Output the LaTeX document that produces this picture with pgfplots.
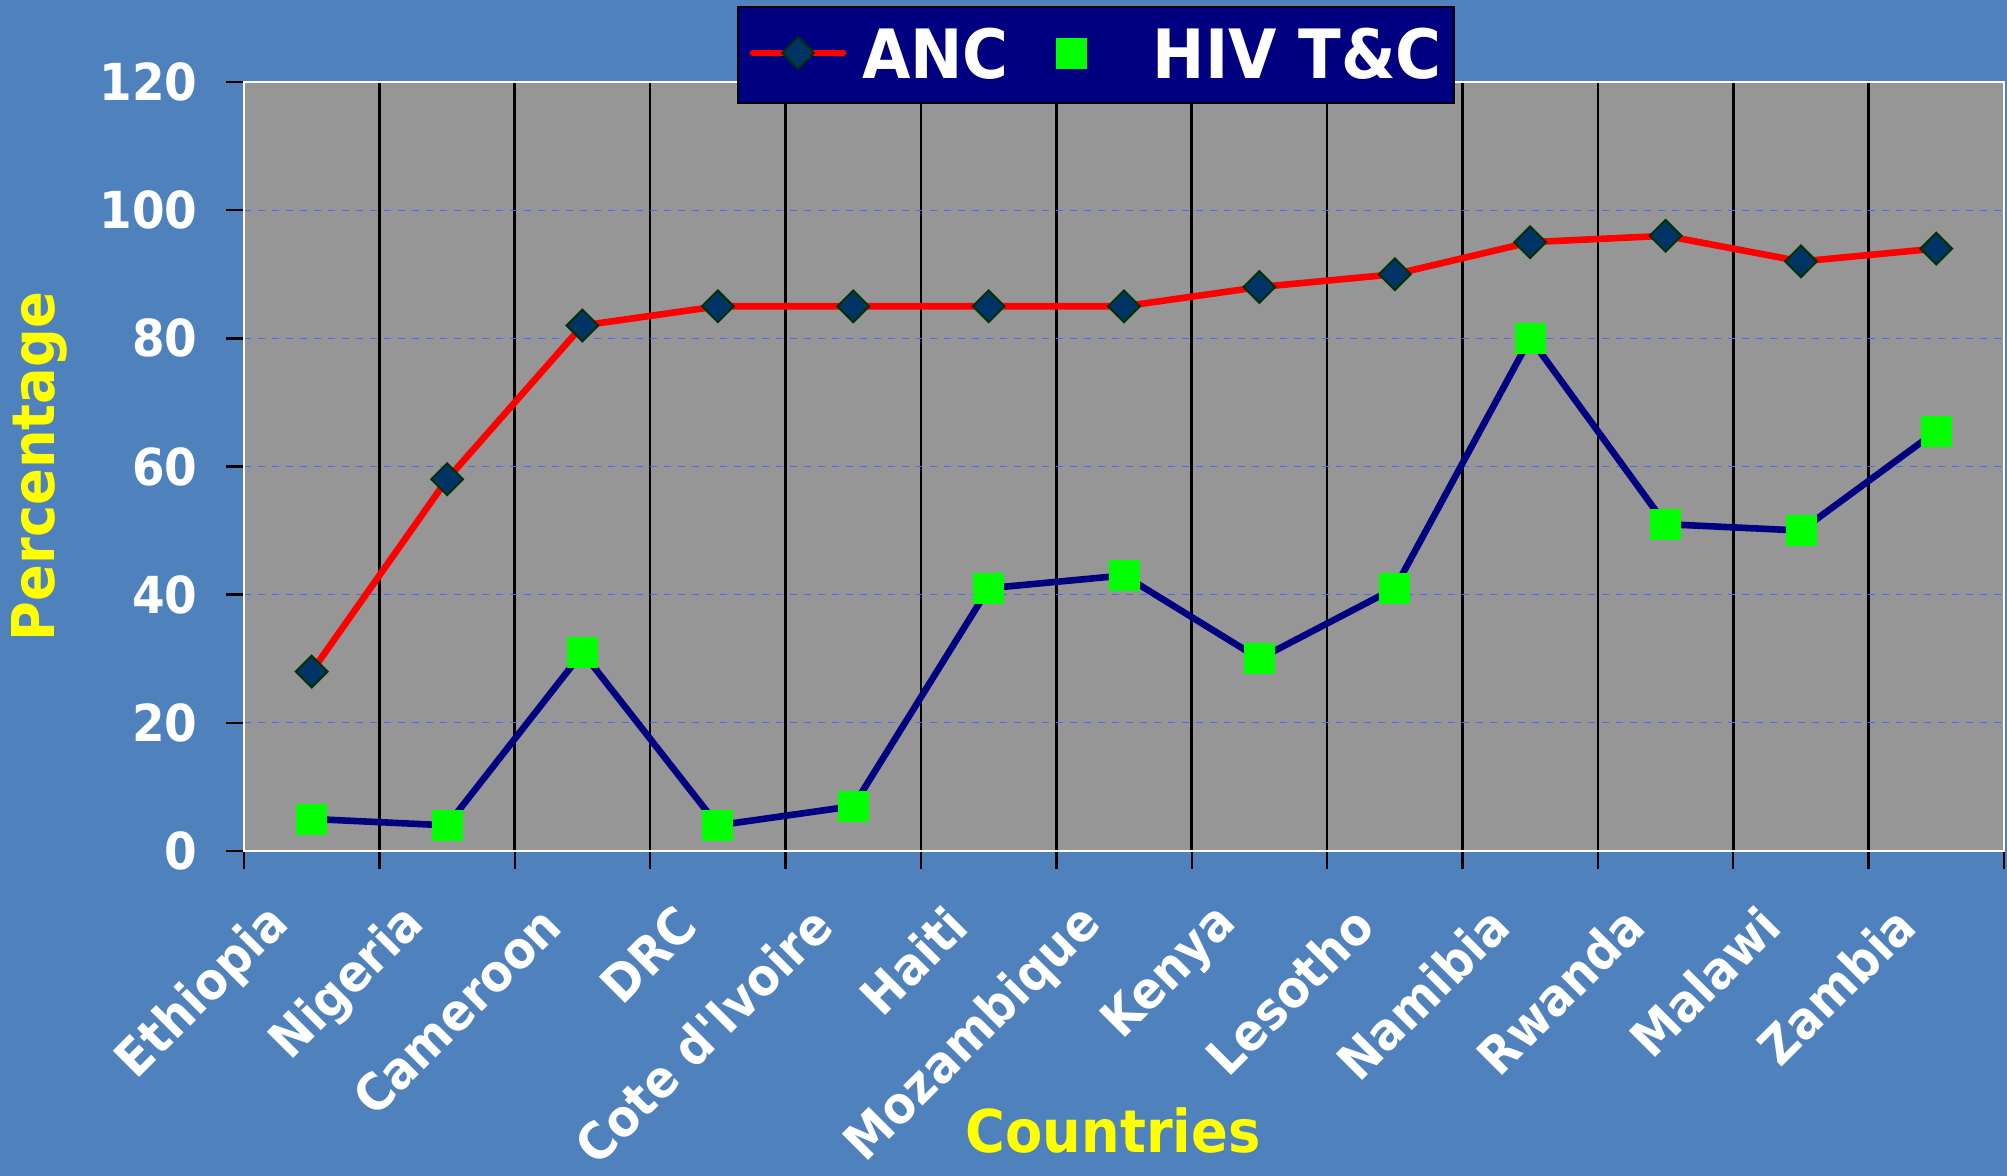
\documentclass[border=0pt]{standalone}
\usepackage{fontspec}
\setmainfont{DejaVu Sans}[FakeStretch=0.92, Ligatures=TeXOff]
\usepackage{pgfplots}
\pgfplotsset{compat=1.18}
\definecolor{bgblue}{RGB}{79,129,189}
\definecolor{plotgray}{RGB}{150,150,150}
\definecolor{legnavy}{RGB}{0,0,128}
\definecolor{gridblue}{RGB}{75,105,245}
\definecolor{dfill}{RGB}{0,51,102}
\definecolor{dedge}{RGB}{0,51,0}
\definecolor{hivgreen}{RGB}{0,255,0}
\definecolor{ancred}{RGB}{255,0,0}
\definecolor{labyellow}{RGB}{255,255,0}
\pgfplotsset{
  ancleg/.style={legend image code/.code={\draw[mark repeat=2, mark phase=2, ##1, line cap=round] plot coordinates {(0pt,1pt) (22.5pt,1pt) (45pt,1pt)};}},
  hivleg/.style={legend image code/.code={\path (0pt,1pt) (39pt,1pt); \draw[##1, only marks] plot coordinates {(7.5pt,1pt)};}},
}
\begin{document}
\begin{tikzpicture}
\fill[bgblue] (0,0) rectangle (1003.5pt,588pt);
\begin{axis}[
  at={(122pt,162.5pt)}, anchor=south west,
  width=880pt, height=384.5pt, scale only axis,
  xmin=-0.5, xmax=12.5, ymin=0, ymax=120,
  xtick={-0.5,0.5,...,12.5},
  xticklabels={Ethiopia,Nigeria,Cameroon,DRC,Cote d'Ivoire,Haiti,Mozambique,Kenya,Lesotho,Namibia,Rwanda,Malawi,Zambia,{}},
  ytick={0,20,...,120},
  tick pos=left,
  tick align=outside,
  major tick length=9pt,
  tick style={black, line width=1.2pt},
  xmajorgrids, ymajorgrids,
  x grid style={black, line width=1.3pt},
  y grid style={gridblue, line width=0.6pt, dash pattern=on 3.5pt off 3.5pt},
  axis background/.style={fill=plotgray},
  axis line style={white, line width=0.8pt},
  /pgf/number format/assume math mode=true,
  yticklabel style={font=\fontsize{25.5}{25.5}\selectfont\bfseries, text=white, anchor=east, inner sep=0pt, xshift=-14pt},
  xticklabel style={font=\fontsize{25.5}{25.5}\selectfont\bfseries, text=white, inner sep=0pt, xshift=18.5pt, yshift=-23.5pt, rotate=45, anchor=east},
  xlabel={Countries},
  ylabel={Percentage},
  xlabel style={font=\fontsize{29.5}{29.5}\selectfont\bfseries, text=labyellow, at={(axis description cs:0.4938,-0.3927)}, anchor=base, inner sep=0pt},
  ylabel style={font=\fontsize{29.5}{29.5}\selectfont\bfseries, text=labyellow, at={(axis description cs:-0.1074,0.5)}, anchor=base, rotate=0, inner sep=0pt},
  legend columns=2,
  legend style={at={(0.484,1.035)}, anchor=center, fill=legnavy, draw=black, line width=1pt,
    text=white, font=\fontsize{34}{34}\selectfont\bfseries,
    inner xsep=6pt, inner ysep=10.5pt, nodes={inner sep=0pt},
    /tikz/every even column/.append style={column sep=22pt},
    /tikz/every odd column/.append style={column sep=7.8pt}},
]
\addplot[ancred, line width=3.3pt, mark=square*, mark size=5.6pt,
  mark options={solid, rotate=45, fill=dfill, draw=dedge, line width=1pt}, ancleg]
  coordinates {(0,28) (1,58) (2,82) (3,85) (4,85) (5,85) (6,85) (7,88) (8,90) (9,95) (10,96) (11,92) (12,94)};
\addlegendentry{ANC}
\addplot[legnavy, line width=3.3pt, mark=square*, mark size=7.5pt,
  mark options={solid, fill=hivgreen, draw=hivgreen, line width=0.4pt}, hivleg]
  coordinates {(0,5) (1,4) (2,31) (3,4) (4,7) (5,41) (6,43) (7,30) (8,41) (9,80) (10,51) (11,50) (12,65.5)};
\addlegendentry{HIV T\&C}
\draw[black, line width=1.3pt] ([xshift=-1.2pt]rel axis cs:0,1) -- ([xshift=-1.2pt, yshift=-1.2pt]rel axis cs:0,0) -- ([yshift=-1.2pt]rel axis cs:1,0);
\end{axis}
\pgfresetboundingbox
\useasboundingbox (0,0) rectangle (1003.5pt,588pt);
\end{tikzpicture}
\end{document}
